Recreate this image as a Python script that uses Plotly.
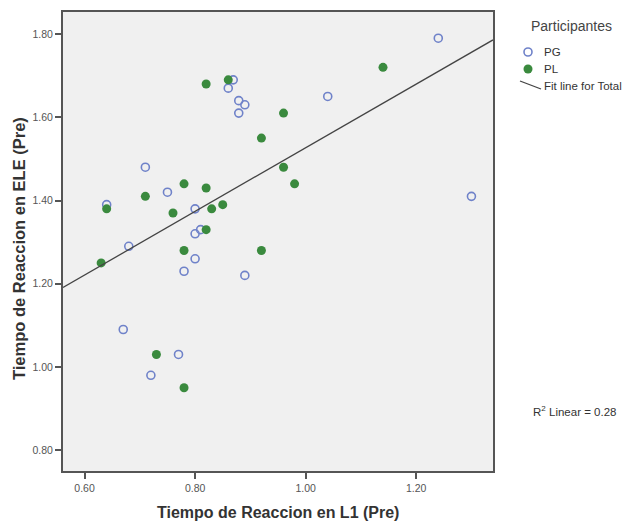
import numpy as np
import plotly.graph_objects as go

# PG participants (open circles)
pg_x = [0.869, 0.860, 0.879, 0.890, 0.879, 0.710, 0.750, 0.640, 0.800, 0.810, 0.800,
        0.680, 0.800, 0.780, 0.890, 0.670, 0.770, 0.720, 1.240, 1.040, 1.300]
pg_y = [1.69, 1.67, 1.64, 1.63, 1.61, 1.48, 1.42, 1.39, 1.38, 1.33, 1.32,
        1.29, 1.26, 1.23, 1.22, 1.09, 1.03, 0.98, 1.79, 1.65, 1.41]

# PL participants (filled circles)
pl_x = [0.820, 0.860, 0.920, 0.960, 0.780, 0.820, 0.710, 0.640, 0.760, 0.830,
        0.850, 0.820, 0.630, 0.780, 0.920, 0.730, 0.780, 1.140, 0.960, 0.980]
pl_y = [1.68, 1.69, 1.55, 1.61, 1.44, 1.43, 1.41, 1.38, 1.37, 1.38,
        1.39, 1.33, 1.25, 1.28, 1.28, 1.03, 0.95, 1.72, 1.48, 1.44]

x_range = [0.561, 1.339]
y_range = [0.75, 1.853]
tick_vals_x = [0.60, 0.80, 1.00, 1.20]
tick_vals_y = [0.80, 1.00, 1.20, 1.40, 1.60, 1.80]
x_title = "<b>Tiempo de Reaccion en L1 (Pre)</b>"
y_title = "<b>Tiempo de Reaccion en ELE (Pre)</b>"
legend_title = "Participantes"
legend_names = ["PG", "PL", "Fit line for Total"]
r2_label = "R<sup>2</sup> Linear = 0.28"

all_x = np.array(pg_x + pl_x)
all_y = np.array(pg_y + pl_y)
slope, intercept = np.polyfit(all_x, all_y, 1)
fit_x = np.array(x_range)
fit_y = slope * fit_x + intercept

FONT = "Liberation Sans, Arial"
BLUE = "#6f82c9"
GREEN = "#3a8a3e"

W, H = 624, 524
ML, MR, MT, MB = 63, 131, 12, 53
PW, PH = W - ML - MR, H - MT - MB


def px(x):
    return (x - ML) / PW


def py(y):
    return 1 - (y - MT) / PH


fig = go.Figure()
fig.add_trace(go.Scatter(
    x=pg_x, y=pg_y, mode="markers", name=legend_names[0],
    marker=dict(symbol="circle-open", size=8, color=BLUE, line=dict(width=1.6, color=BLUE)),
))
fig.add_trace(go.Scatter(
    x=pl_x, y=pl_y, mode="markers", name=legend_names[1],
    marker=dict(symbol="circle", size=9, color=GREEN),
))
fig.add_trace(go.Scatter(
    x=fit_x, y=fit_y, mode="lines", name=legend_names[2],
    line=dict(color="#444444", width=1.3),
))

axis_common = dict(
    showgrid=False, zeroline=False, showline=True, linecolor="#555555", linewidth=2,
    mirror=True, ticks="outside", ticklen=6, tickcolor="#555555", tickwidth=1.5,
    tickfont=dict(family=FONT, size=10.5, color="#555555"),
    tickformat=".2f", automargin=False,
)

fig.update_layout(
    width=W, height=H,
    margin=dict(l=ML, r=MR, t=MT, b=MB),
    paper_bgcolor="white", plot_bgcolor="#f0f0f0",
    xaxis=dict(range=x_range, tickvals=tick_vals_x, **axis_common),
    yaxis=dict(range=y_range, tickvals=tick_vals_y, **axis_common),
    showlegend=False,
)

# axis titles
fig.add_annotation(xref="paper", yref="paper", x=px(278), y=py(512),
                   xanchor="center", yanchor="middle", text=x_title, showarrow=False,
                   font=dict(family=FONT, size=16, color="#333333"))
fig.add_annotation(xref="paper", yref="paper", x=px(19), y=py(249),
                   xanchor="center", yanchor="middle", text=y_title, showarrow=False,
                   textangle=-90, font=dict(family=FONT, size=16.5, color="#333333"))

# legend (drawn manually)
fig.add_annotation(xref="paper", yref="paper", x=px(571), y=py(26),
                   xanchor="center", yanchor="middle", text=legend_title, showarrow=False,
                   font=dict(family=FONT, size=14, color="#444444"))
fig.add_shape(type="circle", xref="paper", yref="paper", xsizemode="pixel", ysizemode="pixel",
              xanchor=px(528), yanchor=py(52), x0=-4, x1=4, y0=-4, y1=4,
              line=dict(color=BLUE, width=1.6), fillcolor="rgba(0,0,0,0)")
fig.add_shape(type="circle", xref="paper", yref="paper", xsizemode="pixel", ysizemode="pixel",
              xanchor=px(528), yanchor=py(69), x0=-4.5, x1=4.5, y0=-4.5, y1=4.5,
              line=dict(color=GREEN, width=0), fillcolor=GREEN)
fig.add_shape(type="line", xref="paper", yref="paper",
              x0=px(520), y0=py(81), x1=px(541), y1=py(89),
              line=dict(color="#444444", width=1.3))
for name, yy in zip(legend_names, [52, 69, 86]):
    fig.add_annotation(xref="paper", yref="paper", x=px(542), y=py(yy),
                       xanchor="left", yanchor="middle", text=name, showarrow=False,
                       font=dict(family=FONT, size=11.5, color="#333333"))

fig.add_annotation(
    xref="paper", yref="paper", x=px(574), y=py(411), xanchor="center", yanchor="middle",
    text=r2_label, showarrow=False,
    font=dict(family=FONT, size=11.5, color="#333333"),
)

fig.write_html("out.html")
